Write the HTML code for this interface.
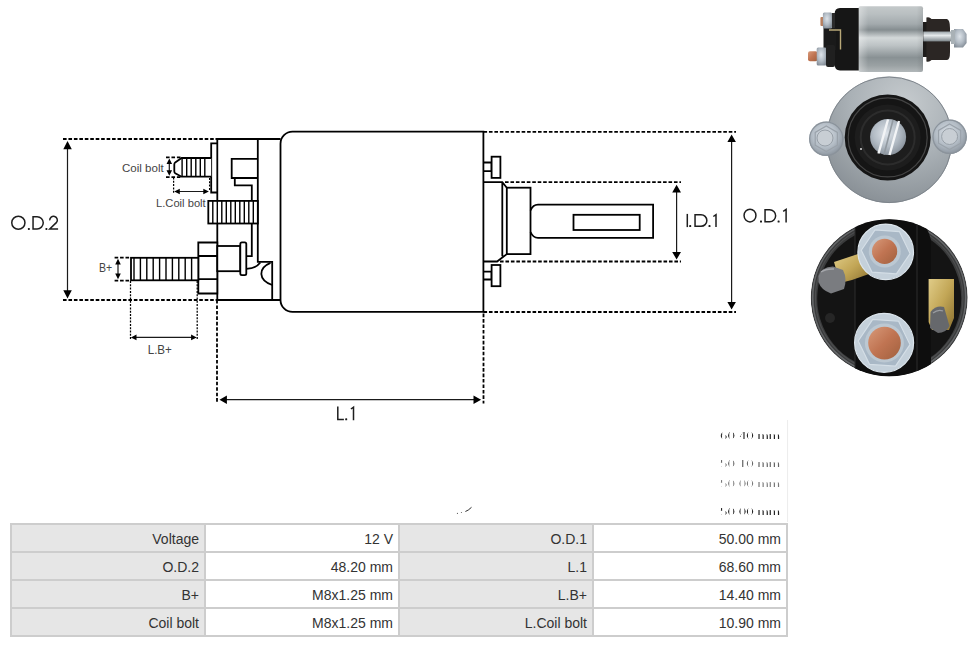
<!DOCTYPE html>
<html><head><meta charset="utf-8">
<style>
html,body{margin:0;padding:0;background:#fff;}
body{width:976px;height:647px;position:relative;overflow:hidden;font-family:"Liberation Sans",sans-serif;}
svg{position:absolute;left:0;top:0;}
.s{stroke:#000;stroke-width:1.8;fill:none;}
.w{stroke:#000;stroke-width:1.8;fill:#fff;}
.th{stroke:#000;stroke-width:1.4;fill:none;}
.d{stroke:#000;stroke-width:1.8;stroke-dasharray:3.6 1.85;fill:none;}
.dt{stroke:#000;stroke-width:1.25;stroke-dasharray:2 1.3;fill:none;}
.a{stroke:#1a1a1a;stroke-width:1.2;fill:none;}
.ah{fill:#000;stroke:none;}
.gl{fill:none;stroke:#1e1e1e;stroke-width:1.5;}
.gl .f{fill:#1e1e1e;stroke:none;}
.lbl{font-family:"Liberation Sans",sans-serif;fill:#222;}
table.spec{position:absolute;left:10px;top:523px;border-collapse:collapse;font-size:14px;color:#333;}
table.spec td{border:2px solid #cdcdcd;height:24px;padding:2px 5px 0 0;text-align:right;width:187px;box-sizing:content-box;line-height:24px;}
table.spec td.k{background:#e6e6e6;}
table.spec td.v{background:#fff;}
</style></head><body>
<svg width="976" height="647" viewBox="0 0 976 647">
<!-- dashed extension lines -->
<path class="d" d="M63 139H215 M63 300H217 M217 300V403.5 M483.5 313.6V403.5 M483.5 131.8H736 M483.5 312H736 M505 182.2H681 M500 261.5H681 M166 157.4H181 M166 177.2H181 M114.6 257.6H131 M114.6 280.7H131"/>
<path class="dt" d="M173.6 177.5V193 M209.6 178V191 M130.5 281V340 M197.2 281V340"/>
<!-- main body -->
<path class="w" d="M292.5 131.7H483.4V311.9H292.5A12 12 0 0 1 280.5 299.9V143.7A12 12 0 0 1 292.5 131.7Z"/>
<!-- rear box -->
<path class="s" d="M215.5 139H280.5 M217.3 139V300H280.5"/>
<path class="s" d="M257.8 139V261.8H272.2V300"/>
<path class="s" d="M257.8 158.8H231.7V178H257.8 M234.8 178V185.4H251.8V256.2H246.3"/>
<!-- plate -->
<path class="s" d="M217.3 143.4H211.2V192.5H217.3"/>
<!-- coil bolt -->
<path class="w" d="M211.2 158H181.6L175.2 162.4Q174.3 163.1 174.3 164.4V171.3Q174.3 172.6 175.2 173.2L181.6 176.7H211.2"/>
<path class="th" d="M182.1 158V176.7 M186.7 158V176.7 M191.2 158V176.7 M195.8 158V176.7 M200.3 158V176.7 M204.8 158V176.7"/>
<!-- thread block -->
<rect class="w" x="208.3" y="200.9" width="49.5" height="22.6"/>
<path class="th" d="M212.8 200.9V223.5 M217.3 200.9V223.5 M221.8 200.9V223.5 M226.3 200.9V223.5 M230.8 200.9V223.5 M235.3 200.9V223.5 M239.8 200.9V223.5 M244.3 200.9V223.5 M248.8 200.9V223.5 M253.3 200.9V223.5"/>
<!-- nut -->
<path class="w" d="M198.3 242.5H217.3V293.5H198.3Z"/>
<path class="s" d="M198.3 256H217.3 M198.3 279.2H217.3"/>
<!-- B+ bolt -->
<rect class="w" x="131" y="257.8" width="67.3" height="22.5"/>
<path class="th" d="M134 257.8V280.3 M140.4 257.8V280.3 M146.8 257.8V280.3 M153.2 257.8V280.3 M159.6 257.8V280.3 M166 257.8V280.3 M172.4 257.8V280.3 M178.8 257.8V280.3 M185.2 257.8V280.3 M191.6 257.8V280.3"/>
<!-- cylinder & washer -->
<rect class="w" x="217.3" y="246" width="23" height="25.2"/>
<rect class="w" x="240.3" y="242.4" width="6" height="32.8" rx="1.6"/>
<path class="s" d="M246.3 268.8Q256 268.6 260.3 262.6"/>
<path class="s" d="M270.5 262.8C258 268 258 280 272.2 285"/>
<!-- right side studs -->
<path class="s" d="M483.4 162.5H491.6V171.2H483.4"/>
<rect class="w" x="491.6" y="156.7" width="8.8" height="21.2"/>
<path class="s" d="M483.4 271.6H491.6V279.5H483.4"/>
<rect class="w" x="491.6" y="265" width="8.8" height="21.2"/>
<!-- plunger housing -->
<path class="s" d="M483.4 182.2H502.3L506.8 187.7 M502.3 182.2V256.2 M483.4 261.5H497.1L506.8 254.1"/>
<rect class="w" x="506.8" y="187.7" width="23.7" height="66.4"/>
<path class="s" d="M530.5 210.5Q533 204.7 538 204.7H653.1V237.8H538Q533 237.8 530.5 232"/>
<rect class="s" x="573.5" y="214.8" width="66.2" height="15.2"/>
<!-- arrows -->
<path class="a" d="M67.5 146V294 M731.6 140V304 M676.6 190V254 M224 399.7H476 M169.3 162V172 M178 191.5H205 M118 263V275 M135 337.4H192"/>
<path class="ah" d="M67.5 141L63.3 149.3H71.8Z M67.5 298.6L63.3 290.3H71.8Z M731.6 134.6L727.4 142H735.9Z M731.6 309.5L727.4 302.1H735.9Z M676.6 184.7L672.2 192.4H681Z M676.6 259.4L672.2 252H681Z M219.5 399.7L226.9 395.4V404Z M481.1 399.7L473.5 395.4V404Z M169.3 158.5L166.5 164H172.1Z M169.3 175.8L166.5 170.3H172.1Z M174.2 191.5L179.8 188.7V194.3Z M208.9 191.5L203.3 188.7V194.3Z M118 258.8L115.2 264.4H120.8Z M118 279.2L115.2 273.6H120.8Z M130.9 337.4L136.5 334.6V340.2Z M196.7 337.4L191.1 334.6V340.2Z"/>
<filter id="vst" x="-5%" y="-20%" width="110%" height="140%"><feMorphology operator="erode" radius="0 0.75"/></filter>
<g font-family="Liberation Sans, sans-serif" font-size="12.5" fill="#222" filter="url(#vst)">
<text x="720" y="440" textLength="60" lengthAdjust="spacingAndGlyphs" opacity="1">60.40 mm</text>
<text x="720" y="468" textLength="60" lengthAdjust="spacingAndGlyphs" opacity="0.7">50.10 mm</text>
<text x="720" y="488" textLength="60" lengthAdjust="spacingAndGlyphs" opacity="0.6">50.00 mm</text>
<text x="720" y="516" textLength="60" lengthAdjust="spacingAndGlyphs" opacity="1">50.00 mm</text>
</g>
<path d="M787.6 420V522" stroke="#ececec" stroke-width="1"/>
<path d="M465.4 511.5Q468.2 510.6 471.5 507.3" stroke="#151515" stroke-width="0.9" fill="none"/>
<circle cx="457.4" cy="513.4" r="0.55" fill="#555"/><circle cx="461.4" cy="512.5" r="0.55" fill="#555"/>
<!-- labels -->
<g class="gl"><ellipse cx="18.35" cy="222.75" rx="6.60" ry="6.50"/><rect x="27.85" y="227.90" width="2.00" height="2.00" rx="0.60" class="f"/><path d="M33.05 216.65H37.10A6.15 6.15 0 0 1 37.10 228.95H33.05Z"/><rect x="45.40" y="227.90" width="2.00" height="2.00" rx="0.60" class="f"/><path d="M49.75 220.35A3.80 3.80 0 1 1 56.54 222.39L49.75 228.95H58.10"/><path d="M687.30 213.90V227.10"/><rect x="689.20" y="225.10" width="2.00" height="2.00" rx="0.60" class="f"/><path d="M695.05 214.65H701.00A5.85 5.85 0 0 1 701.00 226.35H695.05Z"/><rect x="708.50" y="225.10" width="2.00" height="2.00" rx="0.60" class="f"/><path d="M713.30 216.50L716.00 214.65V227.10"/><ellipse cx="750.00" cy="215.60" rx="5.95" ry="6.35"/><rect x="760.00" y="220.50" width="2.00" height="2.00" rx="0.60" class="f"/><path d="M765.05 209.75H769.65A6.00 6.00 0 0 1 769.65 221.75H765.05Z"/><rect x="777.60" y="220.50" width="2.00" height="2.00" rx="0.60" class="f"/><path d="M783.20 211.30L786.10 209.45V222.50"/><path d="M337.80 406.40V419.40H343.90"/><rect x="345.20" y="418.30" width="2.00" height="2.00" rx="0.60" class="f"/><path d="M350.90 409.00L353.50 407.20V420.20"/></g>

<text class="lbl" x="122" y="172.3" font-size="11" textLength="41.7" lengthAdjust="spacingAndGlyphs" style="fill:#444">Coil bolt</text>
<text class="lbl" x="156" y="207.4" font-size="11" textLength="49.7" lengthAdjust="spacingAndGlyphs" style="fill:#444">L.Coil bolt</text>
<text class="lbl" x="98.9" y="272.2" font-size="13" textLength="13.2" lengthAdjust="spacingAndGlyphs" style="fill:#444">B+</text>
<text class="lbl" x="147.7" y="353.7" font-size="13" textLength="24.2" lengthAdjust="spacingAndGlyphs" style="fill:#444">L.B+</text>
</svg>

<svg width="976" height="647" viewBox="0 0 976 647">
<defs>
<linearGradient id="cyl" x1="0" y1="0" x2="0" y2="1">
 <stop offset="0" stop-color="#c4c9ca"/>
 <stop offset="0.12" stop-color="#b9bfc1"/>
 <stop offset="0.27" stop-color="#a3aaad"/>
 <stop offset="0.36" stop-color="#858d90"/>
 <stop offset="0.48" stop-color="#d3d8d9"/>
 <stop offset="0.6" stop-color="#bcc2c4"/>
 <stop offset="0.78" stop-color="#899194"/>
 <stop offset="0.9" stop-color="#9aa1a3"/>
 <stop offset="1" stop-color="#b2b8ba"/>
</linearGradient>
<linearGradient id="cylh" x1="0" y1="0" x2="1" y2="0">
 <stop offset="0" stop-color="#fff" stop-opacity="0.35"/>
 <stop offset="0.15" stop-color="#fff" stop-opacity="0"/>
 <stop offset="0.9" stop-color="#000" stop-opacity="0"/>
 <stop offset="1" stop-color="#000" stop-opacity="0.08"/>
</linearGradient>
<linearGradient id="shaft" x1="0" y1="0" x2="0" y2="1">
 <stop offset="0" stop-color="#9aa3a8"/>
 <stop offset="0.4" stop-color="#e6eaec"/>
 <stop offset="1" stop-color="#7d868b"/>
</linearGradient>
<linearGradient id="cu" x1="0" y1="0" x2="1" y2="1">
 <stop offset="0" stop-color="#d89a7a"/>
 <stop offset="0.5" stop-color="#c07452"/>
 <stop offset="1" stop-color="#a0603e"/>
</linearGradient>
<radialGradient id="disk" cx="0.62" cy="0.22" r="0.85">
 <stop offset="0" stop-color="#c6cbce"/>
 <stop offset="0.5" stop-color="#aab1b6"/>
 <stop offset="1" stop-color="#868d93"/>
</radialGradient>
<radialGradient id="nutg" cx="0.45" cy="0.4" r="0.65">
 <stop offset="0" stop-color="#dde3e9"/>
 <stop offset="0.55" stop-color="#b3bcc5"/>
 <stop offset="1" stop-color="#848d97"/>
</radialGradient>
<linearGradient id="brass" x1="0" y1="0" x2="1" y2="1">
 <stop offset="0" stop-color="#e0cc88"/>
 <stop offset="0.5" stop-color="#c2a656"/>
 <stop offset="1" stop-color="#8a7030"/>
</linearGradient>
<radialGradient id="rim" cx="0.5" cy="0.5" r="0.5">
 <stop offset="0.9" stop-color="#2a2a2a"/>
 <stop offset="0.96" stop-color="#5a5c5e"/>
 <stop offset="1" stop-color="#3a3b3c"/>
</radialGradient>
</defs>
<!-- PHOTO 1: side view -->
<g>
 <rect x="858.5" y="6.2" width="64.5" height="65.8" rx="2" fill="url(#cyl)"/>
 <rect x="858.5" y="6.2" width="64.5" height="65.8" rx="2" fill="url(#cylh)"/>
 <path d="M858.7 8H840Q834.6 8 834.6 14V64Q834.6 70.5 840 70.5H858.7Z" fill="#161616"/>
 <path d="M823.5 28H836V50H823.5Z" fill="#1a1a1a"/>
 <path d="M829 30H840.5V49.5" fill="none" stroke="#b8a878" stroke-width="1.4"/>
 <rect x="820.4" y="17" width="4" height="9" rx="1" fill="#b88060"/>
 <rect x="822.9" y="12.4" width="9.2" height="16" rx="1.5" fill="url(#nutg)"/>
 <rect x="832" y="13" width="3" height="15" fill="#2a2a2a"/>
 <rect x="808" y="51.3" width="9.5" height="9.9" rx="2" fill="url(#cu)"/>
 <rect x="816.7" y="47.6" width="9.9" height="17.9" rx="1.5" fill="url(#nutg)"/>
 <rect x="826" y="45" width="9" height="22" rx="2" fill="#202020"/>
 <!-- right side -->
 <path d="M923 22H928V57H923Z" fill="#1e1c1b"/>
 <path d="M926.4 17.5Q929.5 16.5 931.5 19H947Q950 20 950 28V52Q950 60 947 60H931.5Q929.5 62.5 926.4 61.5Z" fill="#2b2624"/>
 <rect x="923.3" y="31.5" width="36" height="9.9" fill="url(#shaft)"/>
 <path d="M954 29H963L966.6 34V43L963 47.6H954Z" fill="url(#nutg)"/>
 <rect x="951" y="30" width="4" height="14" fill="#a9b1b6"/>
</g>
<!-- PHOTO 2: front view -->
<g>
 <circle cx="889.2" cy="139.8" r="63.2" fill="url(#disk)"/>
 <circle cx="889.2" cy="139.8" r="62.8" fill="none" stroke="#7e858c" stroke-width="1"/>
 <circle cx="887.7" cy="137.4" r="43" fill="#151515"/>
 <circle cx="887.7" cy="137.4" r="39.5" fill="none" stroke="#444" stroke-width="1.2"/>
 <circle cx="887.7" cy="137.4" r="33" fill="#1d1d1d"/>
 <circle cx="887.7" cy="137.4" r="27" fill="none" stroke="#2c2c2c" stroke-width="2"/>
 <circle cx="888.1" cy="137" r="18" fill="url(#nutg)"/>
 <path d="M888 119.5L878.5 153.5M899 121L889.5 155" stroke="#f2f4f6" stroke-width="2.4" fill="none"/>
 <path d="M893 120L884 154.5" stroke="#9199a0" stroke-width="1.6" fill="none"/>
 <circle cx="861" cy="149" r="1" fill="#ddd"/>
 <circle cx="826.3" cy="138.8" r="17.3" fill="url(#nutg)"/>
 <circle cx="826.3" cy="138.8" r="16.6" fill="none" stroke="#8b939b" stroke-width="1.2"/>
 <polygon points="826.3,126 837.4,132.4 837.4,145.2 826.3,151.6 815.2,145.2 815.2,132.4" fill="none" stroke="#9aa2aa" stroke-width="1.2"/>
 <circle cx="825" cy="138" r="8" fill="#c8ced4" stroke="#98a0a8" stroke-width="1"/>
 <circle cx="949.6" cy="136.8" r="17.3" fill="url(#nutg)"/>
 <circle cx="949.6" cy="136.8" r="16.6" fill="none" stroke="#8b939b" stroke-width="1.2"/>
 <polygon points="949.6,124 960.7,130.4 960.7,143.2 949.6,149.6 938.5,143.2 938.5,130.4" fill="none" stroke="#9aa2aa" stroke-width="1.2"/>
 <circle cx="949.6" cy="136.5" r="8" fill="#c8ced4" stroke="#98a0a8" stroke-width="1"/>
</g>
<!-- PHOTO 3: rear view -->
<clipPath id="c3"><circle cx="889.2" cy="297.8" r="78.5"/></clipPath>
<g clip-path="url(#c3)">
 <circle cx="889.2" cy="297.8" r="78.5" fill="#3a3b3c"/>
 <circle cx="889.2" cy="297.8" r="76.5" fill="none" stroke="#66686a" stroke-width="1.6"/>
 <circle cx="889.2" cy="297.8" r="73.8" fill="none" stroke="#4c4d4e" stroke-width="1.2"/>
 <circle cx="889.2" cy="298.5" r="72" fill="#141414"/>
 <path d="M855 215H916Q927 224 931 240V380H855Z" fill="#0e0e0e"/>
 <path d="M855 222V378 M917 224V378" stroke="#2c2c2c" stroke-width="1" fill="none"/>
 <path d="M834 262L858 254L869 256V274L852 280L840 283Z" fill="url(#brass)"/>
 <path d="M818.5 276Q821 267 833 266.5L843 270Q847.5 279 844 289L831 293.5Q821 290 818.5 282Z" fill="#7a7c80"/>
 <path d="M821 272Q826 268.5 834 269" stroke="#a4a6aa" stroke-width="1.5" fill="none"/>
 <path d="M928.6 279H954V318L949 330H932L928.6 322Z" fill="url(#brass)"/>
 <path d="M930.5 312Q936 305 944 307L949.5 326Q946 333 938 333L930 328Z" fill="#66686c"/>
 <path d="M933 313Q938 309 943 311" stroke="#9a9ca0" stroke-width="1.2" fill="none"/>
 <circle cx="885.7" cy="251.9" r="27.8" fill="#c4d0da" stroke="#dce5ec" stroke-width="1.2"/>
 <polygon points="910.1,253.6 896.4,273.9 872.0,272.2 861.3,250.2 875.0,229.9 899.4,231.6" fill="#a9b8c6" stroke="#d4dee6" stroke-width="1.2"/>
 <circle cx="884.8" cy="251.5" r="16" fill="#bcc8d2"/>
 <circle cx="884.6" cy="251.4" r="12.6" fill="url(#cu)"/>
 <circle cx="884.1" cy="342.8" r="29.5" fill="#c4d0da" stroke="#dce5ec" stroke-width="1.2"/>
 <polygon points="910.0,344.6 895.5,366.2 869.6,364.4 858.2,341.0 872.7,319.4 898.6,321.2" fill="#a9b8c6" stroke="#d4dee6" stroke-width="1.2"/>
 <circle cx="884.4" cy="343" r="19.5" fill="#bcc8d2"/>
 <circle cx="884.5" cy="343.1" r="16.3" fill="url(#cu)"/>
 <circle cx="830" cy="318" r="5" fill="#262626"/>
</g>
</svg>

<table class="spec">
<tr><td class="k">Voltage</td><td class="v">12 V</td><td class="k">O.D.1</td><td class="v">50.00 mm</td></tr>
<tr><td class="k">O.D.2</td><td class="v">48.20 mm</td><td class="k">L.1</td><td class="v">68.60 mm</td></tr>
<tr><td class="k">B+</td><td class="v">M8x1.25 mm</td><td class="k">L.B+</td><td class="v">14.40 mm</td></tr>
<tr><td class="k">Coil bolt</td><td class="v">M8x1.25 mm</td><td class="k">L.Coil bolt</td><td class="v">10.90 mm</td></tr>
</table>
</body></html>
